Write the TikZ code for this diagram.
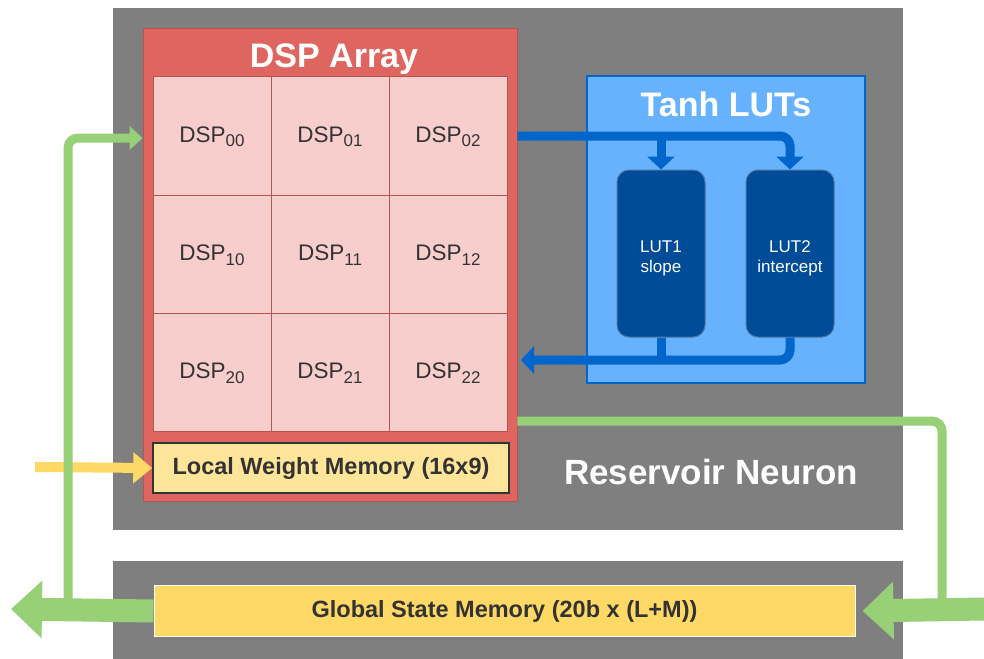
\documentclass[tikz,border=0pt]{standalone}
\usepackage{fontspec}
\setmainfont{Liberation Sans}
\usepackage{tikz}
\usetikzlibrary{shapes,positioning,calc}
\usetikzlibrary{arrows.meta}
\definecolor{grigio}{HTML}{7F7F7F}
\definecolor{rosso}{HTML}{DF6660}
\definecolor{rossoscuro}{HTML}{B85450}
\definecolor{rosa}{HTML}{F8CECC}
\definecolor{giallochiaro}{HTML}{FFE599}
\definecolor{giallo}{HTML}{FFD966}
\definecolor{azzurro}{HTML}{66B2FF}
\definecolor{blu}{HTML}{0066CC}
\definecolor{blunotte}{HTML}{004C99}
\definecolor{verde}{HTML}{97D077}
\definecolor{scuro}{HTML}{333333}
\newcommand{\dspname}[1]{DSP\raisebox{-5pt}{\fontsize{17}{20}\selectfont #1}}
\tikzstyle{blocco} = [rectangle, fill=grigio, draw=none, minimum width=790pt]
\tikzstyle{matrice} = [rectangle, fill=rosso, draw=rossoscuro, line width=0.8pt, minimum width=374pt, minimum height=473pt]
\tikzstyle{cella} = [rectangle, fill=rosa, draw=rossoscuro, line width=1pt, minimum width=118pt, minimum height=118pt, text height=16pt, text depth=4pt, text=scuro, font=\fontsize{22.5}{26}\selectfont]
\tikzstyle{memoria} = [rectangle, text=scuro, font=\bfseries\fontsize{23.5}{28}\selectfont]
\tikzstyle{tabelle} = [rectangle, fill=azzurro, draw=blu, line width=1.5pt, minimum width=278pt, minimum height=307pt]
\tikzstyle{lut} = [rectangle, rounded corners=12pt, fill=blunotte, draw=blu!40!grigio, line width=1pt, minimum width=88pt, minimum height=167pt, text=white, align=center, font=\fontsize{17}{20}\selectfont]
\tikzstyle{titolo} = [anchor=base, text=white, font=\bfseries\fontsize{34}{40}\selectfont]
\tikzstyle{bluearrow} = [line width=9pt, draw=blu, rounded corners=10pt, -{Triangle[length=13pt,width=27pt]}]
\tikzstyle{blueline} = [line width=9pt, draw=blu, rounded corners=10pt]
\tikzstyle{greenline} = [line width=9pt, draw=verde, rounded corners=10pt]
\tikzstyle{greenarrow} = [greenline, -{Triangle[length=13pt,width=23pt]}]
\tikzstyle{bigarrow} = [line width=23pt, draw=verde, -{Triangle[length=31pt,width=56pt]}]
\tikzstyle{yellowarrow} = [line width=10pt, draw=giallo, -{Triangle[length=19pt,width=30pt]}]

\begin{document}
\begin{tikzpicture}[x=1pt,y=-1pt]
\useasboundingbox (0,0) rectangle (984,658);
% blocchi grigi
\node (neuron) at (508,269) [blocco, minimum height=522pt] {};
\node (lower) at (508,610) [blocco, minimum height=98pt] {};
\node (neurontext) at (711,484) [titolo, font=\bfseries\fontsize{35}{40}\selectfont] {Reservoir Neuron};
% DSP array
\node (dsparray) at (330,264.5) [matrice] {};
\node (dsptitle) at (334,68) [titolo] {DSP Array};
\node (dsp00) at (212,136) [cella] {\dspname{00}};
\node (dsp01) at (330,136) [cella] {\dspname{01}};
\node (dsp02) at (448,136) [cella] {\dspname{02}};
\node (dsp10) at (212,254) [cella] {\dspname{10}};
\node (dsp11) at (330,254) [cella] {\dspname{11}};
\node (dsp12) at (448,254) [cella] {\dspname{12}};
\node (dsp20) at (212,372.5) [cella] {\dspname{20}};
\node (dsp21) at (330,372.5) [cella] {\dspname{21}};
\node (dsp22) at (448,372.5) [cella] {\dspname{22}};
\node (lwm) at (331,468) [memoria, fill=giallochiaro, draw=scuro, line width=1.5pt, minimum width=356pt, minimum height=50pt] {Local Weight Memory (16x9)};
% tanh
\node (tanh) at (726,229.5) [tabelle] {};
\node (tanhtitle) at (726,117) [titolo] {Tanh LUTs};
\node (lut1) at (661,253.5) [lut] {\rule{0pt}{21pt}LUT1\\slope};
\node (lut2) at (790,253.5) [lut] {\rule{0pt}{21pt}LUT2\\intercept};
% memoria globale
\node (gsm) at (504.5,611) [memoria, fill=giallo, draw=white, line width=1pt, minimum width=701pt, minimum height=51pt] {Global State Memory (20b x (L+M))};
\coordinate (lutret) at (521,360);
\coordinate (win) at (35,467);
\coordinate (lup) at (68,609);
\coordinate (rdown) at (942,609);
\coordinate (rin) at (984,609);
\coordinate (lout) at (11,609);
% frecce
\draw[bluearrow] (dsparray.east |- dsp02) -| (lut2.north);
\draw[bluearrow] (lut1 |- dsp02) -- (lut1.north);
\draw[blueline] (lut1.south) -- (lut1 |- lutret);
\draw[bluearrow] (lut2.south) |- (lutret);
\draw[yellowarrow] (win) -- (lwm.west);
\draw[greenarrow] (lup) |- (dsparray.west |- 0,138);
\draw[greenline] (dsparray.east |- 0,421) -| (rdown);
\draw[bigarrow] (rin) -- ([xshift=7pt]gsm.east);
\draw[bigarrow] (gsm.west) -- (lout);
\end{tikzpicture}
\end{document}
